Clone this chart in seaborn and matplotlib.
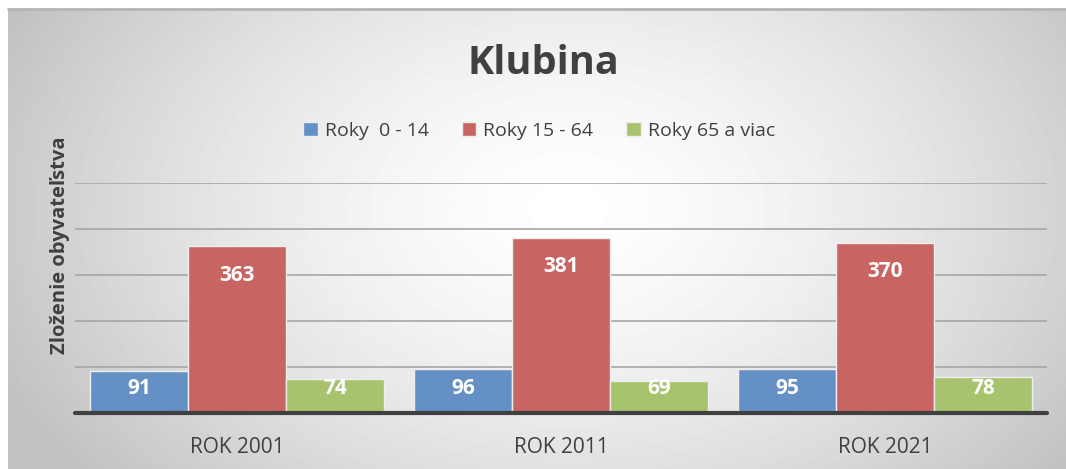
import matplotlib
matplotlib.use("Agg")
import matplotlib.pyplot as plt
import seaborn as sns
import pandas as pd
import numpy as np

# -------------------------------
# Data
# -------------------------------
roky = ["ROK 2001", "ROK 2011", "ROK 2021"]
skupiny = ["Roky  0 - 14", "Roky 15 - 64", "Roky 65 a viac"]
deti = [91, 96, 95]
produktivni = [363, 381, 370]
seniori = [74, 69, 78]

farby = ["#6490C5", "#C86562", "#A7C36D"]
text_col = "#404040"

rows = []
for i, rok in enumerate(roky):
    for skupina, hodnoty in zip(skupiny, [deti, produktivni, seniori]):
        rows.append({"rok": rok, "skupina": skupina, "pocet": hodnoty[i]})
df = pd.DataFrame(rows)

sns.set_style("white")
plt.rcParams["font.family"] = ["Open Sans", "DejaVu Sans"]

fig = plt.figure(figsize=(10.66, 4.69), dpi=100)

# -------------------------------
# Pozadie s radialnym prechodom
# -------------------------------
bg = fig.add_axes([8 / 1066, 0, 1 - 8 / 1066, 1 - 9 / 469], zorder=-10)
w, h = 1058, 460
xx, yy = np.meshgrid(np.arange(w), np.arange(h))
d = np.sqrt(((xx - 560) / 620) ** 2 + ((yy - 200) / 420) ** 2)
grad = 1 - 0.24 * np.clip(d, 0, 1) ** 1.5
bg.imshow(grad, cmap="gray", vmin=0, vmax=1, aspect="auto", extent=(0, 1, 0, 1))
bg.set_axis_off()
bg.plot([0, 1], [1, 1], color="#B4B4B4", lw=2, transform=bg.transAxes, clip_on=False)

# -------------------------------
# Stlpcovy graf
# -------------------------------
ax = fig.add_axes([75 / 1066, 1 - 413 / 469, 972 / 1066, 230 / 469])
ax.patch.set_alpha(0)
sns.barplot(data=df, x="rok", y="pocet", hue="skupina", palette=farby,
            width=0.907, saturation=1, edgecolor="#EEEEEE", linewidth=1,
            ax=ax, zorder=3)

ax.set_ylim(0, 500)
ax.set_xlim(-0.5, 2.5)
ax.set_yticks([100, 200, 300, 400, 500])
ax.set_yticklabels([])
ax.yaxis.grid(True, color="#A6A6A6", lw=1.2, zorder=0)
ax.set_axisbelow(True)
for s in ax.spines.values():
    s.set_visible(False)
ax.axhline(0, color=text_col, lw=3, zorder=5, clip_on=False)
ax.tick_params(axis="both", length=0)
ax.tick_params(axis="x", pad=17, labelsize=15, labelcolor=text_col)
ax.set_xlabel("")
ax.set_ylabel("")

# popisky hodnot
px_per_unit = 230 / 500
for cont in ax.containers:
    for bar in cont:
        v = bar.get_height()
        y = max(v - 29 / px_per_unit, 24 / px_per_unit)
        ax.text(bar.get_x() + bar.get_width() / 2, y, f"{int(v)}",
                ha="center", va="center", color="white", fontsize=15,
                fontweight="bold", zorder=6)

# legenda
ax.legend(loc="center", bbox_to_anchor=(539 / 1066, 1 - 131 / 469),
          bbox_transform=fig.transFigure, ncol=3, frameon=False,
          fontsize=14, handlelength=0.75, handleheight=0.75,
          handletextpad=0.35, columnspacing=1.7, labelcolor=text_col)

fig.text(543 / 1066, 1 - 63 / 469, "Klubina", ha="center", va="center",
         fontsize=28.5, fontweight="bold", color=text_col)
fig.text(60 / 1066, 1 - 245 / 469, "Zloženie obyvateľstva", rotation=90,
         ha="center", va="center", fontsize=14.5, fontweight="bold", color=text_col)

fig.savefig("out.png", dpi=100)
